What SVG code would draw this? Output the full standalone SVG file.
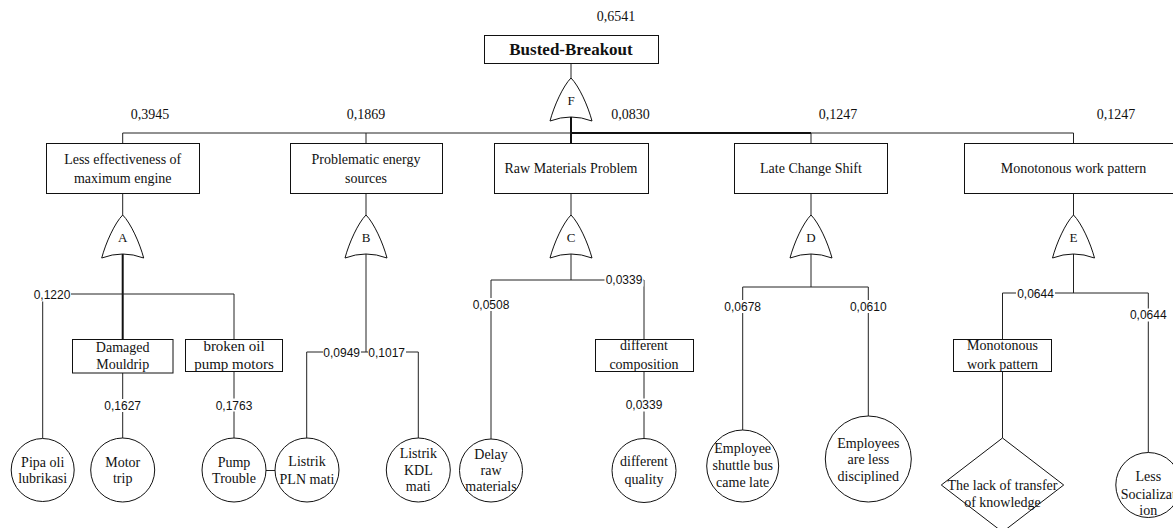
<svg xmlns="http://www.w3.org/2000/svg" width="1173" height="528" viewBox="0 0 1173 528">
<style>
.bx{fill:#fff;stroke:#111;stroke-width:1}
.gt{fill:#fff;stroke:#111;stroke-width:1}
.c{fill:none;stroke:#222;stroke-width:1}
.ct{fill:none;stroke:#111;stroke-width:2}
.t{font-family:"Liberation Serif","Times New Roman",serif;font-size:14px;fill:#111;text-anchor:middle}
.tb{font-family:"Liberation Serif","Times New Roman",serif;font-size:17px;font-weight:bold;fill:#111;text-anchor:middle}
.s{font-family:"Liberation Sans",Arial,sans-serif;font-size:12px;fill:#111;text-anchor:middle}
.bg{fill:#fff;stroke:none}
</style>
<defs>
<path id="gate" d="M -21 43 C -17 28 -8 8 0 0 C 8 8 17 28 21 43 Q 0 35 -21 43 Z"/>
</defs>
<rect width="1173" height="528" fill="#fff"/>

<g id="connectors">
<path class="c" d="M571 63V78"/>
<path class="ct" d="M571 117V143"/>
<path class="c" d="M122.7 133H571"/>
<path class="ct" d="M571 133H811"/>
<path class="c" d="M811 133H1073.5"/>
<path class="c" d="M122.7 133V143M366 133V143M811 133V143M1073.5 133V143"/>
<path class="c" d="M122.7 193V215M366 193V215M571 193V215M811 193V215M1073.5 193V215"/>
<path class="ct" d="M122.7 254V339.5"/>
<path class="c" d="M42.7 294H234M42.7 294V438M234 294V339.5"/>
<path class="c" d="M122.7 373V438M234 371.5V438M266 470.5H275"/>
<path class="c" d="M366 254V352M306.7 352H418.3M306.7 352V438M418.3 352V438"/>
<path class="c" d="M571 254V280M491 280H644M491 280V439M644 280V339.5M644 371.5V438.5"/>
<path class="c" d="M811 254V287M742.7 287H868.3M742.7 287V430M868.3 287V416"/>
<path class="c" d="M1073.5 254V293M1002.5 293H1148.3M1002.5 293V339.5M1148.3 293V452.5M1002.5 371.5V438"/>
</g>

<g id="labels">
<rect class="bg" x="32" y="288.5" width="39" height="13"/><text class="s" x="52" y="299.3">0,1220</text>
<rect class="bg" x="103" y="399" width="39" height="13"/><text class="s" x="122.7" y="410">0,1627</text>
<rect class="bg" x="214.5" y="398.5" width="39" height="13"/><text class="s" x="234" y="409.5">0,1763</text>
<rect class="bg" x="323" y="346" width="38" height="13"/><text class="s" x="341.7" y="356.6">0,0949</text>
<rect class="bg" x="368" y="346" width="38" height="13"/><text class="s" x="386.7" y="356.6">0,1017</text>
<rect class="bg" x="471.5" y="298" width="39" height="13"/><text class="s" x="491" y="309">0,0508</text>
<rect class="bg" x="604.5" y="273.5" width="39" height="13"/><text class="s" x="624" y="284">0,0339</text>
<rect class="bg" x="624.5" y="398.5" width="39" height="13"/><text class="s" x="644" y="409">0,0339</text>
<rect class="bg" x="723" y="300" width="39" height="13"/><text class="s" x="742.7" y="311">0,0678</text>
<rect class="bg" x="848.8" y="300" width="39" height="13"/><text class="s" x="868.3" y="311">0,0610</text>
<rect class="bg" x="1016" y="287" width="39" height="13"/><text class="s" x="1035.5" y="297.6">0,0644</text>
<rect class="bg" x="1128.8" y="308.5" width="39" height="13"/><text class="s" x="1148.3" y="319.3">0,0644</text>
<text class="t" x="616" y="21">0,6541</text>
<text class="t" x="150" y="119">0,3945</text>
<text class="t" x="366" y="119">0,1869</text>
<text class="t" x="630.5" y="119">0,0830</text>
<text class="t" x="838" y="119">0,1247</text>
<text class="t" x="1116" y="119">0,1247</text>
</g>

<g id="top-event">
<rect class="bx" x="484.5" y="35.5" width="174" height="28"/>
<text class="tb" x="571" y="55">Busted-Breakout</text>
</g>
<g id="gate-F"><use href="#gate" class="gt" x="571" y="78"/><text class="t" x="571" y="104.5" style="font-size:13px">F</text></g>

<g id="node-less-effectiveness">
<rect class="bx" x="46.5" y="143.5" width="153" height="50"/>
<text class="t" x="122.7" y="164">Less effectiveness of</text>
<text class="t" x="122.7" y="183">maximum engine</text>
</g>
<g id="node-problematic-energy">
<rect class="bx" x="290.5" y="143.5" width="152" height="50"/>
<text class="t" x="366" y="164">Problematic energy</text>
<text class="t" x="366" y="183">sources</text>
</g>
<g id="node-raw-materials">
<rect class="bx" x="494.5" y="143.5" width="154" height="50"/>
<text class="t" x="571" y="173">Raw Materials Problem</text>
</g>
<g id="node-late-change">
<rect class="bx" x="734.5" y="143.5" width="153" height="50"/>
<text class="t" x="811" y="173">Late Change Shift</text>
</g>
<g id="node-monotonous">
<rect class="bx" x="964.5" y="143.5" width="218" height="50"/>
<text class="t" x="1073.5" y="173">Monotonous work pattern</text>
</g>

<g id="gate-A"><use href="#gate" class="gt" x="122.7" y="215"/><text class="t" x="122.7" y="241.5" style="font-size:13px">A</text></g>
<g id="gate-B"><use href="#gate" class="gt" x="366" y="215"/><text class="t" x="366" y="241.5" style="font-size:13px">B</text></g>
<g id="gate-C"><use href="#gate" class="gt" x="571" y="215"/><text class="t" x="571" y="241.5" style="font-size:13px">C</text></g>
<g id="gate-D"><use href="#gate" class="gt" x="811" y="215"/><text class="t" x="811" y="241.5" style="font-size:13px">D</text></g>
<g id="gate-E"><use href="#gate" class="gt" x="1073.5" y="215"/><text class="t" x="1073.5" y="241.5" style="font-size:13px">E</text></g>

<g id="node-damaged-mouldrip">
<rect class="bx" x="72.5" y="339.5" width="100.5" height="33.5"/>
<text class="t" x="122.7" y="352">Damaged</text>
<text class="t" x="122.7" y="369">Mouldrip</text>
</g>
<g id="node-broken-oil">
<rect class="bx" x="185.5" y="339.5" width="97" height="32"/>
<text class="t" x="234" y="350.5" style="font-size:15px">broken oil</text>
<text class="t" x="234" y="369" style="font-size:15px">pump motors</text>
</g>
<g id="node-different-composition">
<rect class="bx" x="595.5" y="339.5" width="98" height="32"/>
<text class="t" x="644" y="350">different</text>
<text class="t" x="644" y="368.5">composition</text>
</g>
<g id="node-monotonous-small">
<rect class="bx" x="953.5" y="339.5" width="98" height="32"/>
<text class="t" x="1002.5" y="350">Monotonous</text>
<text class="t" x="1002.5" y="368.5">work pattern</text>
</g>

<g id="node-pipa-oli">
<circle class="bx" cx="42.7" cy="470" r="31.5"/>
<text class="t" x="42.7" y="467">Pipa oli</text>
<text class="t" x="42.7" y="483">lubrikasi</text>
</g>
<g id="node-motor-trip">
<circle class="bx" cx="122.7" cy="470" r="32"/>
<text class="t" x="122.7" y="467">Motor</text>
<text class="t" x="122.7" y="483">trip</text>
</g>
<g id="node-pump-trouble">
<circle class="bx" cx="234" cy="470" r="32"/>
<text class="t" x="234" y="467">Pump</text>
<text class="t" x="234" y="483">Trouble</text>
</g>
<g id="node-listrik-pln">
<circle class="bx" cx="307" cy="470" r="32"/>
<text class="t" x="307" y="466.3">Listrik</text>
<text class="t" x="307" y="484">PLN mati</text>
</g>
<g id="node-listrik-kdl">
<circle class="bx" cx="418.3" cy="470" r="32"/>
<text class="t" x="418.3" y="458">Listrik</text>
<text class="t" x="418.3" y="475.3">KDL</text>
<text class="t" x="418.3" y="491.3">mati</text>
</g>
<g id="node-delay-raw">
<circle class="bx" cx="491" cy="470.5" r="31.5"/>
<text class="t" x="491" y="458.6">Delay</text>
<text class="t" x="491" y="475.3">raw</text>
<text class="t" x="491" y="491.3">materials</text>
</g>
<g id="node-different-quality">
<circle class="bx" cx="644" cy="470.5" r="32"/>
<text class="t" x="644" y="466.3">different</text>
<text class="t" x="644" y="483.6">quality</text>
</g>
<g id="node-shuttle-bus">
<circle class="bx" cx="742.7" cy="466" r="36"/>
<text class="t" x="742.7" y="453">Employee</text>
<text class="t" x="742.7" y="470.3">shuttle bus</text>
<text class="t" x="742.7" y="487">came late</text>
</g>
<g id="node-less-disciplined">
<circle class="bx" cx="868.3" cy="459" r="43"/>
<text class="t" x="868.3" y="447.6">Employees</text>
<text class="t" x="868.3" y="464.3">are less</text>
<text class="t" x="868.3" y="481">disciplined</text>
</g>
<g id="node-lack-transfer">
<polygon class="bx" points="1002.5,438 1063.7,485 1002.5,532 941.3,485"/>
<text class="t" x="1002.5" y="489.6">The lack of transfer</text>
<text class="t" x="1002.5" y="506.9">of knowledge</text>
</g>
<g id="node-less-socialization">
<circle class="bx" cx="1148.3" cy="485" r="32.5"/>
<text class="t" x="1148.3" y="480.6">Less</text>
<text class="t" x="1148.3" y="498.6">Socializat</text>
<text class="t" x="1148.3" y="515.3">ion</text>
</g>
</svg>
